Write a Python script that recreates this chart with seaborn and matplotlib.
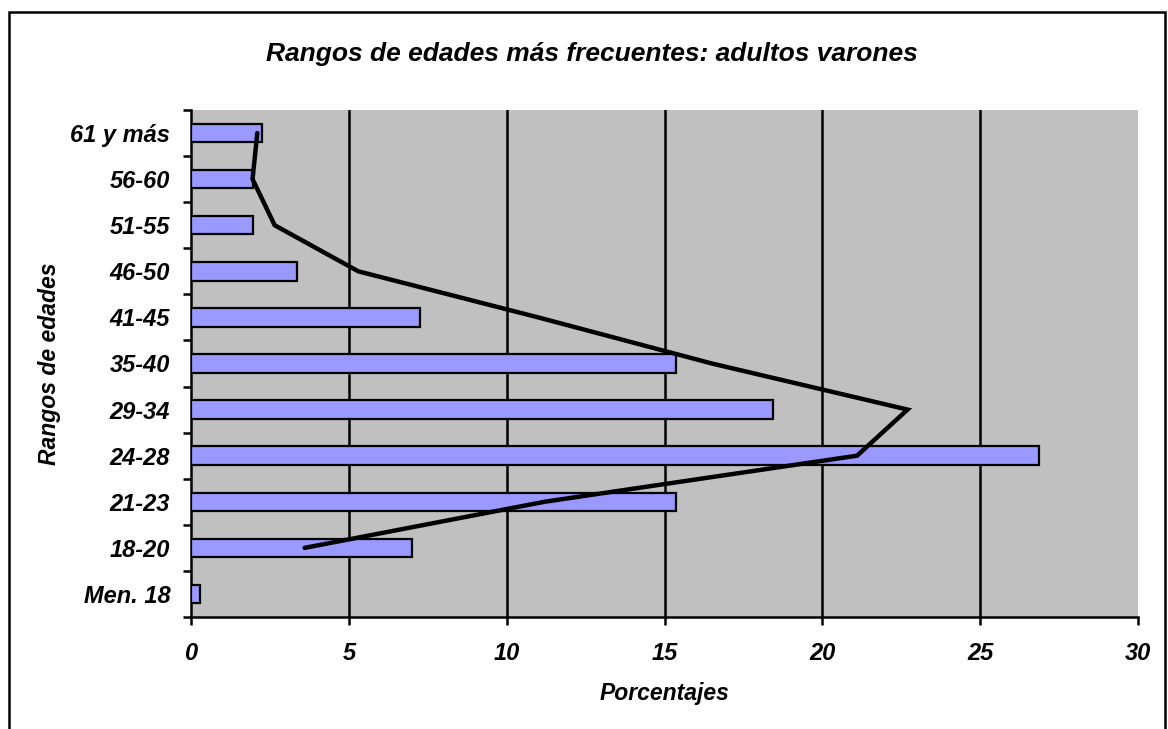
import numpy as np
import pandas as pd
import matplotlib
matplotlib.use("Agg")
import matplotlib.pyplot as plt
from matplotlib.patches import Rectangle
import seaborn as sns

# Age ranges, youngest first
categorias = ["Men. 18", "18-20", "21-23", "24-28", "29-34", "35-40",
              "41-45", "46-50", "51-55", "56-60", "61 y más"]
# Percentage of adult males in each range (bars)
porcentajes = [0.28, 7.0, 15.35, 26.85, 18.45, 15.35, 7.27, 3.37, 1.96, 1.95, 2.25]
# Comparison series drawn as a line
linea = [np.nan, 3.6, 11.2, 21.1, 22.7, 16.5, 11.0, 5.3, 2.65, 1.95, 2.1]
x_ticks = [0, 5, 10, 15, 20, 25, 30]

titulo = "Rangos de edades más frecuentes: adultos varones"
etiqueta_x = "Porcentajes"
etiqueta_y = "Rangos de edades"

sns.set_theme(style="white")
plt.rcParams["font.family"] = ["Liberation Sans", "DejaVu Sans"]
plt.rcParams["text.color"] = "black"
plt.rcParams["axes.labelcolor"] = "black"
plt.rcParams["xtick.color"] = "black"
plt.rcParams["ytick.color"] = "black"

# Oldest range at the top
df = pd.DataFrame({"rango": categorias[::-1],
                   "pct": porcentajes[::-1],
                   "linea": linea[::-1]})

W, H = 1168, 729
fig = plt.figure(figsize=(W / 100, H / 100), dpi=100)
fig.patch.set_facecolor("white")
ax = fig.add_axes([191 / W, 1 - 617 / H, (1138 - 191) / W, (617 - 110) / H])
ax.set_facecolor("#C0C0C0")

sns.barplot(data=df, x="pct", y="rango", order=list(df["rango"]), orient="h",
            color="#9999FF", edgecolor="black", linewidth=1.6, width=0.4,
            saturation=1, ax=ax, zorder=3)

pos = np.arange(len(df))
ax.plot(df["linea"], pos, color="black", lw=3.2, solid_joinstyle="miter",
        solid_capstyle="round", zorder=4)

ax.set_xlim(0, 30)
ax.set_ylim(len(df) - 0.5, -0.5)
ax.set_xticks(x_ticks)
ax.set_xticklabels([str(t) for t in x_ticks], fontsize=17,
                   fontweight="bold", fontstyle="italic")
ax.set_yticks(pos)
ax.set_yticklabels(df["rango"], fontsize=17, fontweight="bold", fontstyle="italic")

# vertical gridlines
for t in x_ticks[1:-1]:
    ax.axvline(t, color="black", lw=1.8, zorder=1)

# category boundary tick marks on the y axis
ax.set_yticks(np.arange(-0.5, len(df), 1.0), minor=True)
ax.tick_params(axis="y", which="major", length=0, pad=15)
ax.tick_params(axis="y", which="minor", length=6, width=1.8, color="black",
               direction="out", left=True)
ax.tick_params(axis="x", which="major", length=6, width=1.8, color="black",
               direction="out", bottom=True, pad=12)

for s in ["top", "right"]:
    ax.spines[s].set_visible(False)
for s in ["left", "bottom"]:
    ax.spines[s].set_visible(True)
    ax.spines[s].set_color("black")
    ax.spines[s].set_linewidth(1.8)

ax.set_xlabel(etiqueta_x, fontsize=16.5, fontweight="bold", fontstyle="italic",
              labelpad=12)
ax.set_ylabel("")
fig.text(50 / W, 1 - 364 / H, etiqueta_y, rotation=90, ha="center", va="center",
         fontsize=16.5, fontweight="bold", fontstyle="italic")
fig.text(592 / W, 1 - 54 / H, titulo, ha="center", va="center",
         fontsize=19, fontweight="bold", fontstyle="italic")

# outer chart frame
fig.patches.append(Rectangle((9 / W, -0.05), (1165 - 9) / W, 1.05 - 12 / H,
                             transform=fig.transFigure, fill=False,
                             edgecolor="black", lw=1.8))

fig.savefig("out.png", dpi=100)
